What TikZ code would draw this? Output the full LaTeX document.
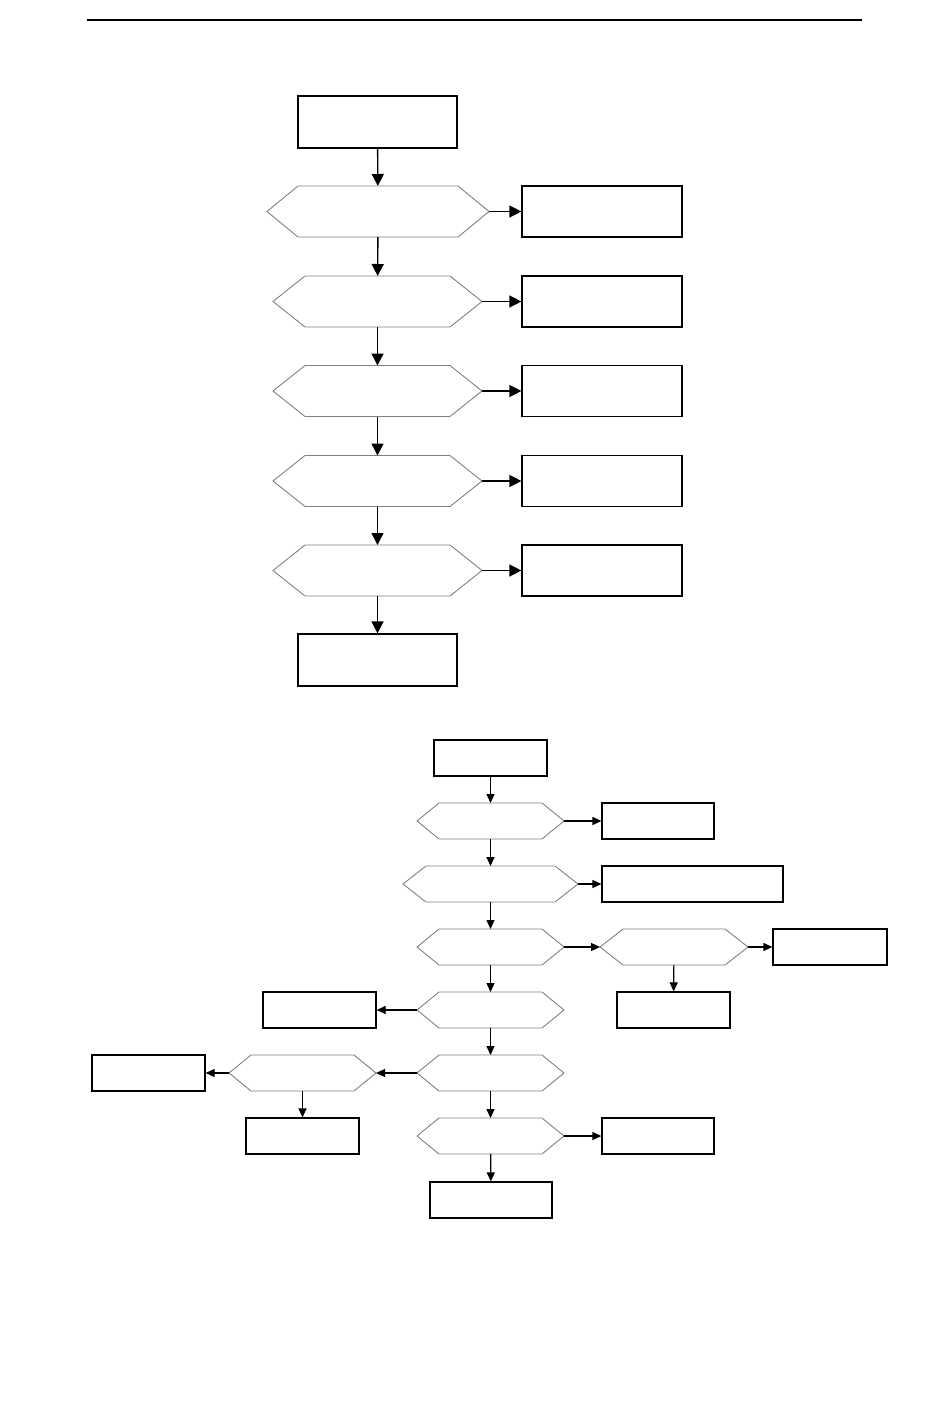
\documentclass[tikz,border=0pt]{standalone}
\usetikzlibrary{arrows.meta}
\tikzset{>={Triangle[length=12pt,width=12pt]},
  box/.style={draw, line width=1.2pt, inner sep=0pt, minimum width=#1},
  hexa/.style={inner sep=0pt, outer sep=0pt, minimum width=#1},
  hexline/.style={draw=gray, line width=0.9pt},
  big/.style={->, line width=1.4pt, >={Triangle[length=12pt,width=12pt]}},
  small/.style={->, line width=1.2pt, >={Triangle[length=9pt,width=8pt]}}}
% hexagon through the anchors of an empty node
\newcommand{\hexnode}[5]{%
  \node[hexa=#3, minimum height=#4] (#1) at (#2) {};
  \draw[hexline] (#1.west) -- ([xshift=#5]#1.north west) -- ([xshift=-#5]#1.north east)
    -- (#1.east) -- ([xshift=-#5]#1.south east) -- ([xshift=#5]#1.south west) -- cycle;}

\begin{document}
\begin{tikzpicture}[x=1pt, y=-1pt]
\useasboundingbox (0,0) rectangle (950,1408);
\draw[line width=1.5pt] (87,20) -- (862,20);

% upper chart
\node[box=159pt, minimum height=52pt] (S0) at (377.5,122) {};
\hexnode{T1}{378,211.5}{222pt}{51pt}{31pt}
\foreach \i/\y in {2/301.5, 3/391, 4/481, 5/570.5}
  \hexnode{T\i}{377.5,\y}{209pt}{51pt}{32pt}
\foreach \i/\y in {1/211.5, 2/301.5, 3/391, 4/481, 5/570.5}
  \node[box=160pt, minimum height=51pt] (R\i) at (602,\y) {};
\node[box=159pt, minimum height=52pt] (E0) at (377.5,660) {};
\draw[big] (S0) -- (T1);
\draw[big] (T1) -- (T2);
\draw[big] (T2) -- (T3);
\draw[big] (T3) -- (T4);
\draw[big] (T4) -- (T5);
\draw[big] (T5) -- (E0);
\foreach \i in {1,...,5}
  \draw[big] (T\i.east) -- (R\i.west);

% lower chart
\node[box=113pt, minimum height=36pt] (S) at (490.5,758) {};
\hexnode{H1}{490.5,821}{147pt}{36pt}{22pt}
\hexnode{H2}{490.5,884}{175pt}{36pt}{23pt}
\hexnode{H3}{490.5,947}{147pt}{36pt}{22pt}
\hexnode{H4}{490.5,1010}{147pt}{36pt}{22pt}
\hexnode{H5}{490.5,1073}{147pt}{36pt}{22pt}
\hexnode{H6}{490.5,1136}{147pt}{36pt}{22pt}
\hexnode{H3b}{674,947}{148pt}{36pt}{23pt}
\hexnode{H5b}{302.5,1073}{147pt}{36pt}{22pt}
\node[box=112pt, minimum height=36pt] (Q1) at (658,821) {};
\node[box=181pt, minimum height=36pt] (Q2) at (692.5,884) {};
\node[box=114pt, minimum height=36pt] (Q3) at (830,947) {};
\node[box=113pt, minimum height=36pt] (Q3b) at (673.5,1010) {};
\node[box=113pt, minimum height=36pt] (L4) at (319.5,1010) {};
\node[box=113pt, minimum height=36pt] (L5) at (148.5,1073) {};
\node[box=113pt, minimum height=36pt] (Q5b) at (302.5,1136) {};
\node[box=112pt, minimum height=36pt] (Q6) at (658,1136) {};
\node[box=122pt, minimum height=36pt] (E) at (491,1200) {};
\draw[small] (S) -- (H1);
\draw[small] (H1) -- (H2);
\draw[small] (H2) -- (H3);
\draw[small] (H3) -- (H4);
\draw[small] (H4) -- (H5);
\draw[small] (H5) -- (H6);
\draw[small] (H6) -- (E);
\draw[small] (H1.east) -- (Q1.west);
\draw[small] (H2.east) -- (Q2.west);
\draw[small] (H3.east) -- (H3b.west);
\draw[small] (H3b.east) -- (Q3.west);
\draw[small] (H3b) -- (Q3b);
\draw[small] (H4.west) -- (L4.east);
\draw[small] (H5.west) -- (H5b.east);
\draw[small] (H5b.west) -- (L5.east);
\draw[small] (H5b) -- (Q5b);
\draw[small] (H6.east) -- (Q6.west);
\end{tikzpicture}
\end{document}
